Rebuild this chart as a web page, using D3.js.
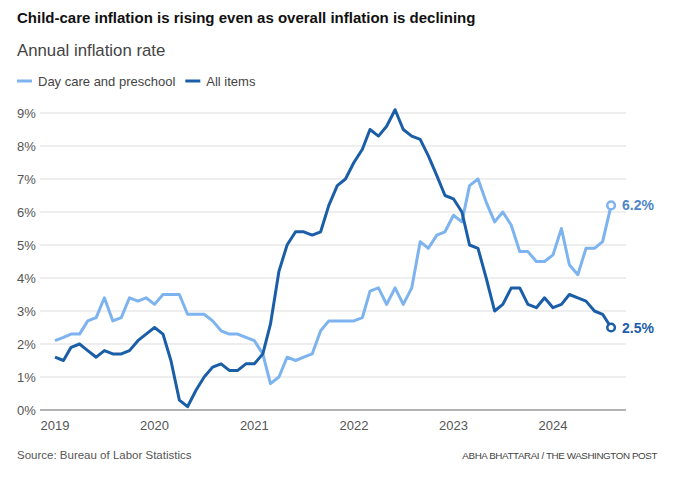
<!DOCTYPE html>
<html>
<head>
<meta charset="utf-8">
<script src="https://cdn.jsdelivr.net/npm/d3@7"></script>
<style>
  body { margin: 0; background: #fff; }
  svg { display: block; }
</style>
</head>
<body>
<svg id="chart" width="689" height="481"></svg>
<script>
// monthly, Jan 2019 .. Aug 2024
var startYear = 2019, startMonth = 0
var daycare = [
  2.1, 2.2, 2.3, 2.3, 2.7, 2.8, 3.4, 2.7, 2.8, 3.4, 3.3, 3.4,
  3.2, 3.5, 3.5, 3.5, 2.9, 2.9, 2.9, 2.7, 2.4, 2.3, 2.3, 2.2,
  2.1, 1.7, 0.8, 1.0, 1.6, 1.5, 1.6, 1.7, 2.4, 2.7, 2.7, 2.7,
  2.7, 2.8, 3.6, 3.7, 3.2, 3.7, 3.2, 3.7, 5.1, 4.9, 5.3, 5.4,
  5.9, 5.7, 6.8, 7.0, 6.3, 5.7, 6.0, 5.6, 4.8, 4.8, 4.5, 4.5,
  4.7, 5.5, 4.4, 4.1, 4.9, 4.9, 5.1, 6.2
]
var allItems = [
  1.6, 1.5, 1.9, 2.0, 1.8, 1.6, 1.8, 1.7, 1.7, 1.8, 2.1, 2.3,
  2.5, 2.3, 1.5, 0.3, 0.1, 0.6, 1.0, 1.3, 1.4, 1.2, 1.2, 1.4,
  1.4, 1.7, 2.6, 4.2, 5.0, 5.4, 5.4, 5.3, 5.4, 6.2, 6.8, 7.0,
  7.5, 7.9, 8.5, 8.3, 8.6, 9.1, 8.5, 8.3, 8.2, 7.7, 7.1, 6.5,
  6.4, 6.0, 5.0, 4.9, 4.0, 3.0, 3.2, 3.7, 3.7, 3.2, 3.1, 3.4,
  3.1, 3.2, 3.5, 3.4, 3.3, 3.0, 2.9, 2.5
]
var yTicks = [0, 1, 2, 3, 4, 5, 6, 7, 8, 9]
var xTickYears = [2019, 2020, 2021, 2022, 2023, 2024]
var seriesNames = ["Day care and preschool", "All items"]

var lightBlue = "#7db3ef", darkBlue = "#1b5ea8"
var fontMain = "'Liberation Sans', Arial, sans-serif"

var svg = d3.select("#chart")

var plotLeft = 40, plotRight = 626
var x = d3.scaleTime()
  .domain([new Date(2019, 0, 1), new Date(2024, 0, 1)])
  .range([55, 553])
var y = d3.scaleLinear()
  .domain([0, 9])
  .range([410, 113])

function toSeries(vals) {
  return vals.map(function(v, i) {
    return { date: new Date(startYear, startMonth + i, 1), value: v }
  })
}
var dcData = toSeries(daycare)
var aiData = toSeries(allItems)

// title + subtitle
svg.append("text")
  .attr("x", 17).attr("y", 23)
  .style("font-family", fontMain)
  .style("font-weight", "bold")
  .style("font-size", "15px")
  .style("fill", "#111")
  .text("Child-care inflation is rising even as overall inflation is declining")

svg.append("text")
  .attr("x", 17).attr("y", 56)
  .style("font-family", fontMain)
  .style("font-size", "16.8px")
  .style("fill", "#444")
  .text("Annual inflation rate")

// legend
var legend = svg.append("g").attr("transform", "translate(17,81)")
var lx = 0
seriesNames.forEach(function(name, i) {
  legend.append("line")
    .attr("x1", lx).attr("x2", lx + 15)
    .attr("y1", 0).attr("y2", 0)
    .attr("stroke", i == 0 ? lightBlue : darkBlue)
    .attr("stroke-width", 3)
  var t = legend.append("text")
    .attr("x", lx + 21).attr("y", 4.5)
    .style("font-family", fontMain)
    .style("font-size", "13px")
    .style("fill", "#444")
    .text(name)
  lx += 21 + t.node().getComputedTextLength() + 10
})

// grid
svg.append("g").selectAll("line")
  .data(yTicks.filter(function(d) { return d > 0 }))
  .enter()
  .append("line")
    .attr("x1", plotLeft).attr("x2", plotRight)
    .attr("y1", function(d) { return y(d) }).attr("y2", function(d) { return y(d) })
    .attr("stroke", "#dddddd")
    .attr("stroke-width", 1)

svg.append("line")
  .attr("x1", plotLeft).attr("x2", plotRight)
  .attr("y1", y(0)).attr("y2", y(0))
  .attr("stroke", "#666")
  .attr("stroke-width", 1)

// y labels
svg.append("g").selectAll("text")
  .data(yTicks)
  .enter()
  .append("text")
    .attr("x", 17)
    .attr("y", function(d) { return y(d) + 4.5 })
    .style("font-family", fontMain)
    .style("font-size", "13px")
    .style("fill", "#555")
    .text(function(d) { return d + "%" })

// x labels
svg.append("g").selectAll("text")
  .data(xTickYears)
  .enter()
  .append("text")
    .attr("x", function(d) { return x(new Date(d, 0, 1)) })
    .attr("y", 430)
    .attr("text-anchor", "middle")
    .style("font-family", fontMain)
    .style("font-size", "13px")
    .style("fill", "#555")
    .text(function(d) { return d })

// lines
var line = d3.line()
  .x(function(d) { return x(d.date) })
  .y(function(d) { return y(d.value) })

svg.append("path")
  .datum(dcData)
  .attr("d", line)
  .attr("fill", "none")
  .attr("stroke", lightBlue)
  .attr("stroke-width", 3)
  .attr("stroke-linejoin", "round")

svg.append("path")
  .datum(aiData)
  .attr("d", line)
  .attr("fill", "none")
  .attr("stroke", darkBlue)
  .attr("stroke-width", 3)
  .attr("stroke-linejoin", "round")

// end markers and labels
var ends = [
  { d: dcData[dcData.length - 1], stroke: lightBlue, text: "#4f86c6" },
  { d: aiData[aiData.length - 1], stroke: darkBlue, text: darkBlue }
]
ends.forEach(function(e) {
  svg.append("circle")
    .attr("cx", x(e.d.date)).attr("cy", y(e.d.value))
    .attr("r", 3.8)
    .attr("fill", "#fff")
    .attr("stroke", e.stroke)
    .attr("stroke-width", 2.5)
  svg.append("text")
    .attr("x", x(e.d.date) + 11)
    .attr("y", y(e.d.value) + 5)
    .style("font-family", fontMain)
    .style("font-weight", "bold")
    .style("font-size", "14px")
    .style("fill", e.text)
    .text(e.d.value.toFixed(1) + "%")
})

// footer
svg.append("text")
  .attr("x", 17).attr("y", 459)
  .style("font-family", fontMain)
  .style("font-size", "11.5px")
  .style("fill", "#555")
  .text("Source: Bureau of Labor Statistics")

svg.append("text")
  .attr("x", 657).attr("y", 459)
  .attr("text-anchor", "end")
  .style("font-family", fontMain)
  .style("font-size", "9.8px")
  .style("letter-spacing", "-0.4px")
  .style("fill", "#444")
  .text("ABHA BHATTARAI / THE WASHINGTON POST")
</script>
</body>
</html>
